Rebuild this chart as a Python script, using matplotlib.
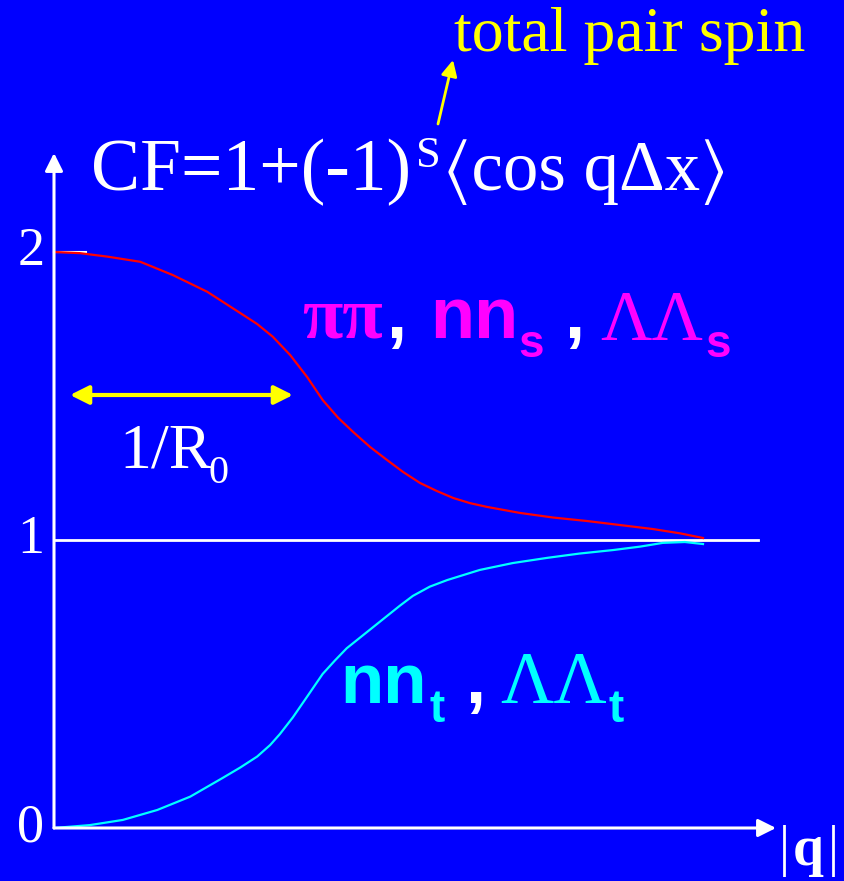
import numpy as np
import matplotlib.pyplot as plt

# Correlation function vs |q| for spin singlet / triplet pairs
BG = '#0000FF'

q_singlet = [0.0, 0.040, 0.082, 0.133, 0.183, 0.236, 0.287, 0.313, 0.337, 0.364,
             0.390, 0.414, 0.438, 0.461, 0.487, 0.513, 0.538, 0.564, 0.590, 0.615,
             0.641, 0.667, 0.718, 0.769, 0.821, 0.872, 0.923, 0.965, 1.0]
cf_singlet = [2.0, 1.996, 1.984, 1.966, 1.920, 1.862, 1.788, 1.750, 1.706, 1.642,
              1.566, 1.486, 1.424, 1.375, 1.323, 1.278, 1.236, 1.198, 1.170, 1.146,
              1.128, 1.115, 1.094, 1.078, 1.066, 1.052, 1.038, 1.023, 1.007]

q_triplet = [0.0, 0.055, 0.106, 0.159, 0.210, 0.260, 0.287, 0.313, 0.333, 0.348,
             0.368, 0.390, 0.414, 0.433, 0.451, 0.492, 0.533, 0.553, 0.579, 0.606,
             0.656, 0.707, 0.760, 0.810, 0.861, 0.903, 0.938, 0.972, 1.0]
cf_triplet = [0.0, 0.010, 0.028, 0.0625, 0.109, 0.174, 0.210, 0.248, 0.288, 0.326,
              0.384, 0.456, 0.535, 0.582, 0.624, 0.698, 0.772, 0.806, 0.838, 0.861,
              0.896, 0.920, 0.938, 0.953, 0.965, 0.977, 0.990, 0.993, 0.986]

y_ticks = [0, 1, 2]
y_tick_labels = ['0', '1', '2']

W, H = 845, 881
X0, Y0 = 54, 828          # origin in pixels
SX, SY = 649, 288         # pixels per unit


def px(x, y):
    return ((x - X0) / SX, (Y0 - y) / SY)


SERIF = ['Liberation Serif', 'STIXGeneral', 'DejaVu Serif']
SANS = ['Liberation Sans', 'DejaVu Sans']

fig = plt.figure(figsize=(W / 100, H / 100), dpi=100)
fig.patch.set_facecolor(BG)
ax = fig.add_axes([0, 0, 1, 1])
ax.set_facecolor(BG)
ax.set_xlim(-X0 / SX, (W - X0) / SX)
ax.set_ylim(-(H - Y0) / SY, Y0 / SY)
ax.axis('off')

# axes with arrow heads
ax.annotate('', xy=px(776, 828), xytext=(0, 0),
            arrowprops=dict(arrowstyle='-|>', color='white', lw=2.2,
                            mutation_scale=27, shrinkA=0, shrinkB=0))
ax.annotate('', xy=px(54, 153), xytext=(0, 0),
            arrowprops=dict(arrowstyle='-|>', color='white', lw=2.2,
                            mutation_scale=27, shrinkA=0, shrinkB=0))
ax.plot([0, px(758, 0)[0]], [1, 1], color='white', lw=2)
ax.plot([0, px(86, 0)[0]], [2, 2], color='white', lw=1.5)

for v, lab in zip(y_ticks, y_tick_labels):
    ax.text(px(31, 0)[0], v, lab, color='white', fontsize=39, family=SERIF,
            ha='center', va='center')

ax.plot(q_singlet, cf_singlet, color='#FF0000', lw=1.6, solid_joinstyle='round')
ax.plot(q_triplet, cf_triplet, color='#00FFFF', lw=1.6, solid_joinstyle='round')

# formula
ax.text(*px(91, 190), 'CF=1+(-1)', color='white', fontsize=53, family=SERIF,
        va='baseline')
ax.text(*px(416, 167), 'S', color='white', fontsize=32, family=SERIF,
        va='baseline')
ax.text(*px(443, 190), '\u27e8cos q\u0394x\u27e9', color='white', fontsize=51,
        family=SERIF, va='baseline')

ax.text(*px(454, 51), 'total pair spin', color='#FFFF00', fontsize=46,
        family=SERIF, va='baseline')
ax.annotate('', xy=px(453, 60), xytext=px(438, 124),
            arrowprops=dict(arrowstyle='-|>', color='#FFFF00', lw=2,
                            mutation_scale=24, shrinkA=0, shrinkB=0))

# 1/R0 width marker
ax.annotate('', xy=px(293, 395), xytext=px(70, 395),
            arrowprops=dict(arrowstyle='<|-|>', color='#FFFF00', lw=3,
                            mutation_scale=28, shrinkA=0, shrinkB=0))
ax.text(*px(119, 468), '1/R', color='white', fontsize=46, family=SERIF,
        va='baseline')
ax.text(*px(209, 483), '0', color='white', fontsize=29, family=SERIF,
        va='baseline')

# singlet label
MAG = '#FF00FF'
ax.text(*px(302, 338), '\u03c0\u03c0', color=MAG, fontsize=53, family=SERIF,
        fontweight='bold', va='baseline')
ax.text(*px(386, 338), ',', color='white', fontsize=52, family=SANS,
        fontweight='bold', va='baseline')
ax.text(*px(430, 338), 'nn', color=MAG, fontsize=52, family=SANS,
        fontweight='bold', va='baseline')
ax.text(*px(518, 357), 's', color=MAG, fontsize=33, family=SANS,
        fontweight='bold', va='baseline')
ax.text(*px(564, 338), ',', color='white', fontsize=52, family=SANS,
        fontweight='bold', va='baseline')
ax.text(*px(600, 340), '\u039b\u039b', color=MAG, fontsize=51, family=SERIF,
        va='baseline')
ax.text(*px(705, 357), 's', color=MAG, fontsize=33, family=SANS,
        fontweight='bold', va='baseline')

# triplet label
CYN = '#00FFFF'
ax.text(*px(340, 703), 'nn', color=CYN, fontsize=51, family=SANS,
        fontweight='bold', va='baseline')
ax.text(*px(430, 722), 't', color=CYN, fontsize=33, family=SANS,
        fontweight='bold', va='baseline')
ax.text(*px(465, 703), ',', color='white', fontsize=52, family=SANS,
        fontweight='bold', va='baseline')
ax.text(*px(500, 703), '\u039b\u039b', color=CYN, fontsize=53, family=SERIF,
        va='baseline')
ax.text(*px(609, 722), 't', color=CYN, fontsize=33, family=SANS,
        fontweight='bold', va='baseline')

# |q| axis label
ax.text(*px(779, 865), '|', color='white', fontsize=40, family=SERIF,
        va='baseline')
ax.text(*px(793, 865), 'q', color='white', fontsize=40, family=SERIF,
        fontweight='bold', va='baseline')
ax.text(*px(828, 865), '|', color='white', fontsize=40, family=SERIF,
        va='baseline')

fig.savefig('out.png', dpi=100, facecolor=BG)
